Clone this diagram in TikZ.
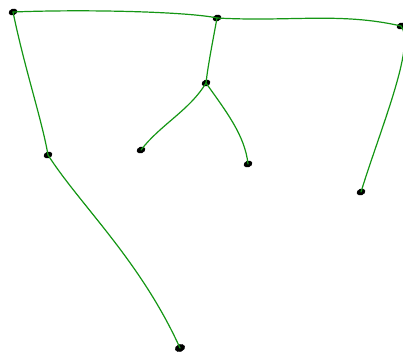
\documentclass[tikz,border=0pt]{standalone}
\usetikzlibrary{shapes.geometric}
\definecolor{edgegreen}{RGB}{20,150,20}
\begin{document}
\begin{tikzpicture}[x=1pt,y=-1pt,
  blob/.style={ellipse,fill=black,draw=black,inner sep=0pt,minimum width=8.5pt,minimum height=6pt,rotate=20},
  link/.style={draw=edgegreen,line width=1.2pt,line cap=round}]
\useasboundingbox (0,0) rectangle (403,355);
\clip (0,0) rectangle (403,355);
\node[blob] (A) at (13,12) {};
\node[blob] (B) at (217,18) {};
\node[blob] (C) at (401,26) {};
\node[blob] (D) at (206,83) {};
\node[blob] (E) at (141,150) {};
\node[blob] (F) at (248,164) {};
\node[blob] (G) at (48,155) {};
\node[blob,minimum width=10pt,minimum height=7pt] (H) at (180,348) {};
\node[blob] (I) at (361,192) {};
\path[link] (A.center) .. controls (90,9) and (190,12) .. (B.center);
\path[link] (B.center) .. controls (290,22) and (340,12) .. (C.center);
\path[link] (A.center) .. controls (25,70) and (42,120) .. (G.center);
\path[link] (G.center) .. controls (80,205) and (140,260) .. (H.center);
\path[link] (B.center) .. controls (213,40) and (208,65) .. (D.center);
\path[link] (D.center) .. controls (190,110) and (160,125) .. (E.center);
\path[link] (D.center) .. controls (225,110) and (245,135) .. (F.center);
\path[link] (C.center) .. controls (416,45) and (380,130) .. (I.center);
\end{tikzpicture}
\end{document}
